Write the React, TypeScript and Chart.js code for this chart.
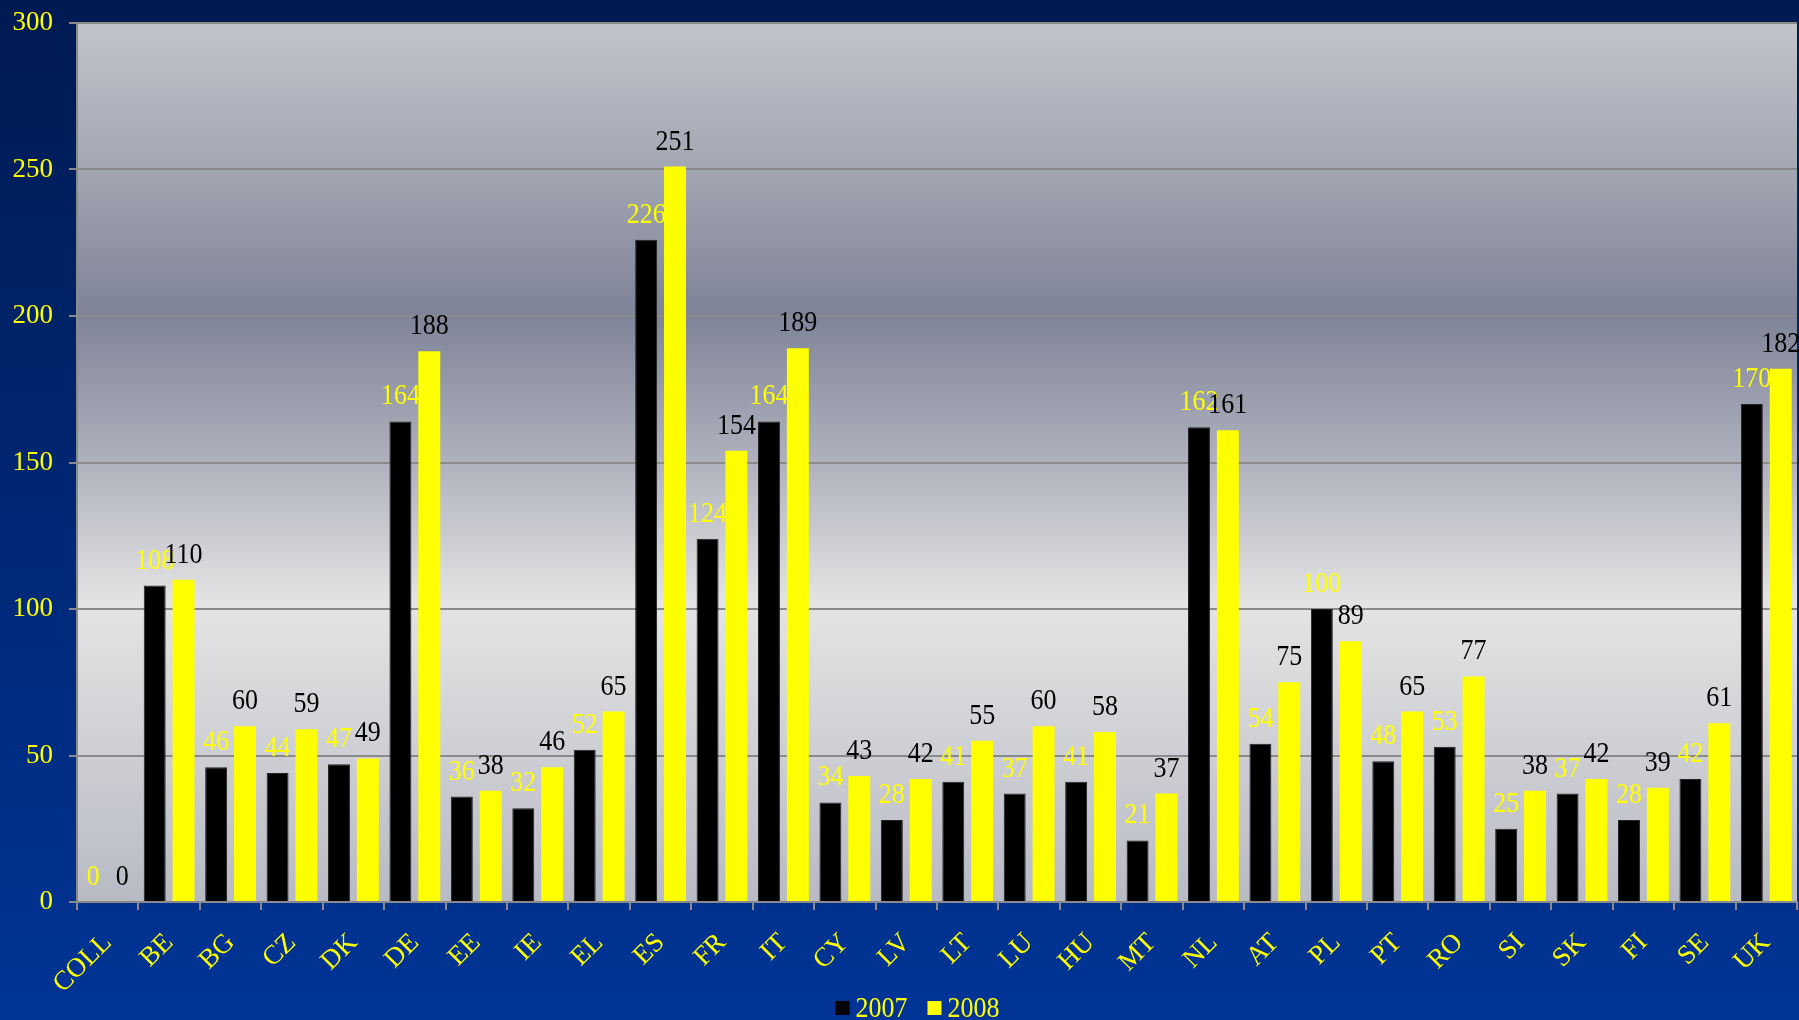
import React, { useEffect, useRef } from 'react';
import { Chart, registerables } from 'chart.js';

Chart.register(...registerables);

const categories = ['COLL', 'BE', 'BG', 'CZ', 'DK', 'DE', 'EE', 'IE', 'EL', 'ES', 'FR', 'IT', 'CY', 'LV', 'LT', 'LU', 'HU', 'MT', 'NL', 'AT', 'PL', 'PT', 'RO', 'SI', 'SK', 'FI', 'SE', 'UK'];
const values2007 = [0, 108, 46, 44, 47, 164, 36, 32, 52, 226, 124, 164, 34, 28, 41, 37, 41, 21, 162, 54, 100, 48, 53, 25, 37, 28, 42, 170];
const values2008 = [0, 110, 60, 59, 49, 188, 38, 46, 65, 251, 154, 189, 43, 42, 55, 60, 58, 37, 161, 75, 89, 65, 77, 38, 42, 39, 61, 182];
const seriesNames = ['2007', '2008'];
const yMin = 0;
const yMax = 300;
const yStep = 50;

const FONT = "'Liberation Serif', 'Times New Roman', serif";
const YELLOW = '#ffff00';
const STRETCH = 1.12;

const backgroundPlugin = {
  id: 'bgGradients',
  beforeDraw(chart: any) {
    const { ctx, width, height, chartArea } = chart;
    ctx.save();
    const g = ctx.createLinearGradient(0, 0, 0, height);
    g.addColorStop(0, '#001a52');
    g.addColorStop(1, '#003496');
    ctx.fillStyle = g;
    ctx.fillRect(0, 0, width, height);
    if (chartArea) {
      const { left, top, right, bottom } = chartArea;
      const pg = ctx.createLinearGradient(0, top, 0, bottom);
      pg.addColorStop(0, '#c2c4cc');
      pg.addColorStop(0.17, '#a2a6b2');
      pg.addColorStop(0.33, '#7e8397');
      pg.addColorStop(0.5, '#afb2bd');
      pg.addColorStop(0.66, '#e4e4e4');
      pg.addColorStop(1, '#b8bac4');
      ctx.fillStyle = pg;
      ctx.fillRect(left, top, right - left, bottom - top);
    }
    ctx.restore();
  },
};

const labelColors = [YELLOW, '#000000'];

function stretchedText(ctx: any, text: string, x: number, y: number) {
  ctx.save();
  ctx.translate(x, y);
  ctx.scale(1, STRETCH);
  ctx.fillText(text, 0, 0);
  ctx.restore();
}

const valueLabelPlugin = {
  id: 'valueLabels',
  afterDatasetsDraw(chart: any) {
    const { ctx } = chart;
    ctx.save();
    ctx.font = `26px ${FONT}`;
    ctx.textAlign = 'center';
    ctx.textBaseline = 'alphabetic';
    chart.data.datasets.forEach((ds: any, di: number) => {
      const meta = chart.getDatasetMeta(di);
      ctx.fillStyle = labelColors[di];
      meta.data.forEach((bar: any, i: number) => {
        stretchedText(ctx, String(ds.data[i]), bar.x, bar.y - 17);
      });
    });
    ctx.restore();
  },
};

const legendPlugin = {
  id: 'customLegend',
  afterDraw(chart: any) {
    const { ctx } = chart;
    ctx.save();
    ctx.font = `26px ${FONT}`;
    ctx.textBaseline = 'alphabetic';
    ctx.textAlign = 'left';
    const box = 14;
    const gapText = 6;
    const gapItem = 20;
    const items = chart.data.datasets.map((ds: any) => ({
      label: ds.label,
      color: ds.backgroundColor,
      w: ctx.measureText(ds.label).width,
    }));
    const total = items.reduce((s: number, it: any) => s + box + gapText + it.w, 0) + gapItem * (items.length - 1);
    let x = chart.width * 0.51 - total / 2;
    const baseline = chart.height - 3;
    items.forEach((it: any) => {
      ctx.fillStyle = it.color;
      ctx.fillRect(x, baseline - 16, box, box);
      x += box + gapText;
      ctx.fillStyle = YELLOW;
      stretchedText(ctx, it.label, x, baseline);
      x += it.w + gapItem;
    });
    ctx.restore();
  },
};

export default function App() {
  const canvasRef = useRef<HTMLCanvasElement | null>(null);

  useEffect(() => {
    if (!canvasRef.current) return;
    Chart.defaults.font.family = FONT;
    const chart = new Chart(canvasRef.current, {
      type: 'bar',
      data: {
        labels: categories,
        datasets: [
          {
            label: seriesNames[0],
            data: values2007,
            backgroundColor: '#000000',
            borderColor: '#222222',
            borderWidth: 1,
            categoryPercentage: 0.94,
            barPercentage: 0.76,
          },
          {
            label: seriesNames[1],
            data: values2008,
            backgroundColor: YELLOW,
            borderWidth: 0,
            categoryPercentage: 0.94,
            barPercentage: 0.76,
          },
        ],
      },
      options: {
        animation: false,
        responsive: false,
        devicePixelRatio: 1,
        layout: { padding: { top: 23, right: 2, left: 0, bottom: 0 } },
        plugins: {
          legend: { display: false },
          tooltip: { enabled: false },
          title: { display: false },
        },
        scales: {
          x: {
            offset: true,
            grid: {
              display: true,
              drawOnChartArea: false,
              offset: true,
              tickLength: 8,
              tickColor: '#8a8a8a',
              lineWidth: 2,
            },
            border: { display: true, color: '#8a8a8a', width: 2 },
            ticks: {
              color: YELLOW,
              font: { size: 27, family: FONT },
              minRotation: 45,
              maxRotation: 45,
              autoSkip: false,
              padding: 17,
            },
            afterFit: (scale: any) => {
              scale.height = 118;
              scale.paddingLeft = 0;
              scale.paddingRight = 0;
            },
          },
          y: {
            min: yMin,
            max: yMax,
            grid: {
              color: '#8a8a8a',
              lineWidth: 2,
              tickLength: 8,
              tickColor: '#8a8a8a',
            },
            border: { display: true, color: '#8a8a8a', width: 2 },
            ticks: {
              stepSize: yStep,
              color: YELLOW,
              font: { size: 27, family: FONT },
              padding: 16,
            },
            afterFit: (scale: any) => {
              scale.width = 77;
              scale.paddingTop = 0;
              scale.paddingBottom = 0;
            },
          },
        },
      },
      plugins: [backgroundPlugin, valueLabelPlugin, legendPlugin],
    });
    return () => chart.destroy();
  }, []);

  return (
    <div style={{ position: 'absolute', left: 0, top: 0, width: 1799, height: 1020 }}>
      <canvas ref={canvasRef} width={1799} height={1020} style={{ display: 'block' }} />
    </div>
  );
}
